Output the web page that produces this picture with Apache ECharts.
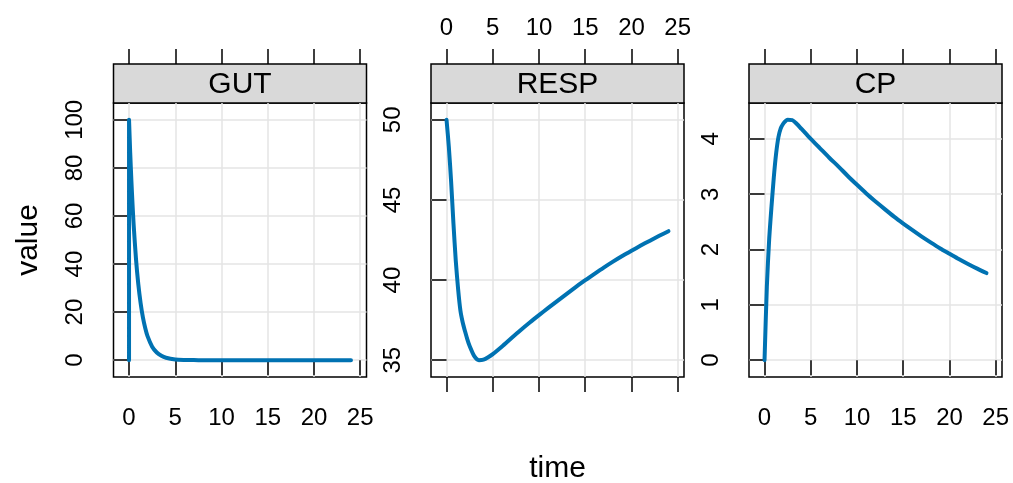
<!DOCTYPE html>
<html>
<head>
<meta charset="utf-8">
<script src="https://cdn.jsdelivr.net/npm/echarts@6/dist/echarts.min.js"></script>
<style>
html,body{margin:0;padding:0;background:#fff;}
#main{width:1013px;height:483px;}
</style>
</head>
<body>
<div id="main"></div>
<script>
// panel names
var panels = ['GUT', 'RESP', 'CP'];

// GUT compartment (dose at time 0 -> vertical jump)
var timeGut = [0, 0, 0.125, 0.25, 0.375, 0.5, 0.75, 1, 1.25, 1.5, 1.75, 2, 2.5, 3, 3.5, 4, 5, 6, 7, 8, 10, 12, 14, 16, 18, 20, 22, 24];
var gut = [0, 100, 86.5, 75, 65, 56.3, 42.2, 31.7, 23.8, 17.8, 13.4, 10, 5.6, 3.2, 1.8, 1.0, 0.3, 0.1, 0.03, 0, 0, 0, 0, 0, 0, 0, 0, 0];

// RESP and CP share times
var time = [0, 0.25, 0.5, 0.75, 1, 1.25, 1.5, 1.75, 2, 2.25, 2.5, 3, 3.5, 4, 4.5, 5, 6, 7, 8, 9, 10, 11, 12, 13, 14, 15, 16, 17, 18, 19, 20, 21, 22, 23, 24];
var resp = [50, 48.3, 46.1, 43.5, 41.2, 39.45, 38.1, 37.35, 36.8, 36.3, 35.88, 35.25, 35.0, 35.03, 35.18, 35.38, 35.86, 36.37, 36.87, 37.35, 37.81, 38.26, 38.7, 39.14, 39.57, 39.99, 40.39, 40.78, 41.15, 41.5, 41.83, 42.15, 42.46, 42.76, 43.05];
var cp = [0, 1.33, 2.18, 2.77, 3.3, 3.73, 4.03, 4.19, 4.27, 4.32, 4.345, 4.34, 4.27, 4.18, 4.09, 4.0, 3.83, 3.66, 3.5, 3.33, 3.17, 3.015, 2.87, 2.73, 2.595, 2.47, 2.35, 2.235, 2.125, 2.02, 1.925, 1.83, 1.74, 1.655, 1.575];

// tick labels
var xTicks = [0, 5, 10, 15, 20, 25];
var yTicksGut = [0, 20, 40, 60, 80, 100];
var yTicksResp = [35, 40, 45, 50];
var yTicksCp = [0, 1, 2, 3, 4];

var font = 'Liberation Sans, Arial, Helvetica, sans-serif';
var lineColor = '#0072B2';

function pairs(xs, ys){
	var out = [];
	for(var i = 0; i < xs.length; i++){
		out.push([xs[i], ys[i]]);
	}
	return out;
}

// lattice pads the data range by 7% on each side
function padded(lo, hi){
	var d = (hi - lo) * 0.07;
	return [lo - d, hi + d];
}

var lefts = [113.5, 431, 749];
var panelW = 253;
var panelTop = 103;
var panelH = 274;
var stripH = 39;

var xr = padded(0, 24);
var yRanges = [padded(0, 100), padded(Math.min.apply(null, resp), 50), padded(0, Math.max.apply(null, cp))];
var yTicks = [yTicksGut, yTicksResp, yTicksCp];
var seriesData = [pairs(timeGut, gut), pairs(time, resp), pairs(time, cp)];

var grids = [], xAxes = [], yAxes = [], series = [], graphics = [];

for(var p = 0; p < 3; p++){
	grids.push({
		left: lefts[p], top: panelTop, width: panelW, height: panelH,
		show: true, borderColor: '#000', borderWidth: 1.5,
		outerBoundsMode: 'none'
	});
	// bottom axis: labels on GUT and CP, ticks only on RESP
	xAxes.push({
		type: 'value', gridIndex: p, position: 'bottom',
		min: xr[0], max: xr[1],
		name: p == 1 ? 'time' : '',
		nameLocation: 'middle', nameGap: 77,
		nameTextStyle: {fontSize: 30, color: '#000', fontFamily: font},
		axisLine: {show: false},
		axisTick: {show: true, inside: false, length: 15, customValues: xTicks, lineStyle: {color: '#000', width: 1.5}},
		axisLabel: {show: p != 1, margin: 29, customValues: xTicks, fontSize: 24, color: '#000', fontFamily: font},
		splitLine: {show: true, lineStyle: {color: '#e5e5e5', width: 1.5}}
	});
	// top axis, sits above the strip
	xAxes.push({
		type: 'value', gridIndex: p, position: 'top', offset: stripH,
		min: xr[0], max: xr[1],
		axisLine: {show: false},
		axisTick: {show: true, inside: false, length: 15, customValues: xTicks, lineStyle: {color: '#000', width: 1.5}},
		axisLabel: {show: p == 1, margin: 24, customValues: xTicks, fontSize: 24, color: '#000', fontFamily: font},
		splitLine: {show: false}
	});
	yAxes.push({
		type: 'value', gridIndex: p, position: 'left',
		min: yRanges[p][0], max: yRanges[p][1],
		name: p == 0 ? 'value' : '',
		nameLocation: 'middle', nameGap: 70, nameRotate: 90,
		nameTextStyle: {fontSize: 30, color: '#000', fontFamily: font},
		axisLine: {show: false},
		axisTick: {show: true, inside: false, length: 15, customValues: yTicks[p], lineStyle: {color: '#000', width: 1.5}},
		axisLabel: {show: true, rotate: 90, margin: 26, customValues: yTicks[p], fontSize: 24, color: '#000', fontFamily: font},
		splitLine: {show: true, lineStyle: {color: '#e5e5e5', width: 1.5}}
	});
	series.push({
		type: 'line', xAxisIndex: p * 2, yAxisIndex: p,
		data: seriesData[p],
		smooth: 0.25,
		showSymbol: false, symbol: 'none',
		lineStyle: {color: lineColor, width: 4, cap: 'round', join: 'round'},
		animation: false, silent: true
	});
	// strip with panel name
	graphics.push({
		type: 'rect',
		shape: {x: lefts[p], y: panelTop - stripH, width: panelW, height: stripH},
		style: {fill: '#d9d9d9', stroke: '#000', lineWidth: 1.5}
	});
	graphics.push({
		type: 'text',
		x: lefts[p] + panelW / 2, y: panelTop - stripH / 2 + 1,
		style: {text: panels[p], fontSize: 30, fontFamily: font, fill: '#000', align: 'center', verticalAlign: 'middle'}
	});
}

var myChart = echarts.init(document.getElementById('main'), null, {renderer: 'canvas'});
var option = {
	backgroundColor: '#fff',
	animation: false,
	grid: grids,
	xAxis: xAxes,
	yAxis: yAxes,
	series: series,
	graphic: graphics
};
myChart.setOption(option);
</script>
</body>
</html>
